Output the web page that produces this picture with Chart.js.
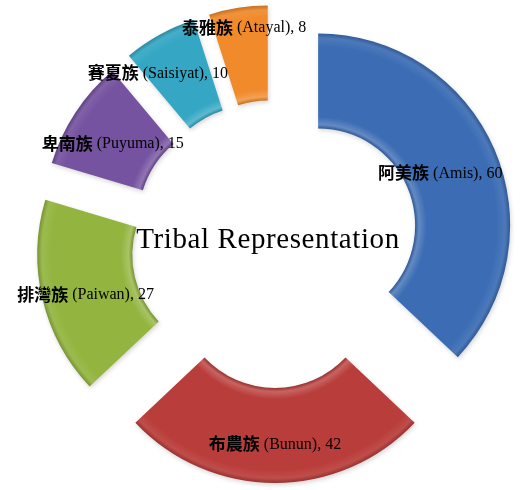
<!DOCTYPE html>
<html>
<head>
<meta charset="utf-8">
<script src="https://cdn.jsdelivr.net/npm/chart.js@4.4.1/dist/chart.umd.min.js"></script>
<style>
  html, body { margin: 0; padding: 0; background: #fff; }
  #wrap { width: 520px; height: 490px; }
</style>
</head>
<body>
<div id="wrap"><canvas id="tribes"></canvas></div>
<script>
// data
const tribeNames = ['阿美族', '布農族', '排灣族', '卑南族', '賽夏族', '泰雅族'];
const tribeRoman = ['Amis', 'Bunun', 'Paiwan', 'Puyuma', 'Saisiyat', 'Atayal'];
const tribeCounts = [60, 42, 27, 15, 10, 8];
const chartTitle = 'Tribal Representation';

const sliceColors = ['#3c6db4', '#b93d3a', '#93b540', '#7653a0', '#35a7c4', '#f08a2a'];

// how far each slice is pulled out, and where its label sits (dist from slice centre, angle tweak in deg)
const EXPLODE = 47;
const labelPlace = [[133, 0], [153, 0], [149, -2], [144, -2], [161, -7], [172, 1]];

function shade(hex, amt) {
  const n = parseInt(hex.slice(1), 16);
  let r = n >> 16, g = (n >> 8) & 255, b = n & 255;
  const f = c => Math.round(amt < 0 ? c * (1 + amt) : c + (255 - c) * amt);
  return `rgb(${f(r)},${f(g)},${f(b)})`;
}

function bevelFill(c) {
  const base = sliceColors[c.dataIndex];
  const area = c.chart.chartArea;
  if (!area) return base;
  const cx = (area.left + area.right) / 2, cy = (area.top + area.bottom) / 2;
  const R = Math.min(area.width, area.height) / 2;
  const r = R * 0.505;
  const g = c.chart.ctx.createRadialGradient(cx, cy, r, cx, cy, R);
  g.addColorStop(0, shade(base, -0.18));
  g.addColorStop(0.04, shade(base, 0.2));
  g.addColorStop(0.12, base);
  g.addColorStop(0.86, base);
  g.addColorStop(0.95, shade(base, 0.08));
  g.addColorStop(1, shade(base, -0.18));
  return g;
}

// draw every slice shifted outwards along its middle angle
const explodePlugin = {
  id: 'explode',
  beforeDatasetsDraw(chart) {
    const ctx = chart.ctx;
    chart.getDatasetMeta(0).data.forEach(arc => {
      const mid = (arc.startAngle + arc.endAngle) / 2;
      ctx.save();
      ctx.shadowColor = 'rgba(0,0,0,0.16)';
      ctx.shadowBlur = 4;
      ctx.shadowOffsetX = 1;
      ctx.shadowOffsetY = 2;
      ctx.translate(Math.cos(mid) * EXPLODE, Math.sin(mid) * EXPLODE);
      arc.draw(ctx);
      ctx.restore();
    });
    return false;
  },
  afterDraw(chart) {
    const ctx = chart.ctx;
    const meta = chart.getDatasetMeta(0);
    ctx.save();
    ctx.textBaseline = 'middle';
    ctx.fillStyle = '#000';
    meta.data.forEach((arc, i) => {
      const mid = (arc.startAngle + arc.endAngle) / 2;
      const [dist, tweak] = labelPlace[i];
      const a = mid + tweak * Math.PI / 180;
      const x = arc.x + Math.cos(mid) * EXPLODE + Math.cos(a) * dist;
      const y = arc.y + Math.sin(mid) * EXPLODE + Math.sin(a) * dist;
      const cjk = tribeNames[i];
      const rest = ` (${tribeRoman[i]}), ${tribeCounts[i]}`;
      ctx.font = 'bold 17px "Noto Sans CJK TC"';
      const w1 = ctx.measureText(cjk).width;
      ctx.font = '16px "Liberation Serif"';
      const w2 = ctx.measureText(rest).width;
      const x0 = x - (w1 + w2) / 2;
      ctx.font = 'bold 17px "Noto Sans CJK TC"';
      ctx.fillText(cjk, x0, y);
      ctx.font = '16px "Liberation Serif"';
      ctx.fillText(rest, x0 + w1, y + 1);
    });
    // title in the hole
    const first = meta.data[0];
    ctx.font = '29px "Liberation Serif"';
    ctx.letterSpacing = '0.6px';
    ctx.textAlign = 'center';
    ctx.fillText(chartTitle, first.x - 7, first.y - 4);
    ctx.restore();
  }
};

new Chart(document.getElementById('tribes'), {
  type: 'doughnut',
  data: {
    labels: tribeNames.map((n, i) => `${n} (${tribeRoman[i]})`),
    datasets: [{
      data: tribeCounts,
      backgroundColor: bevelFill,
      borderWidth: 0
    }]
  },
  options: {
    responsive: true,
    maintainAspectRatio: false,
    animation: false,
    cutout: '50.5%',
    rotation: 0,
    layout: { padding: { left: 83, right: 53, top: 52, bottom: 54 } },
    plugins: {
      legend: { display: false },
      tooltip: { enabled: false }
    }
  },
  plugins: [explodePlugin]
});
</script>
</body>
</html>
